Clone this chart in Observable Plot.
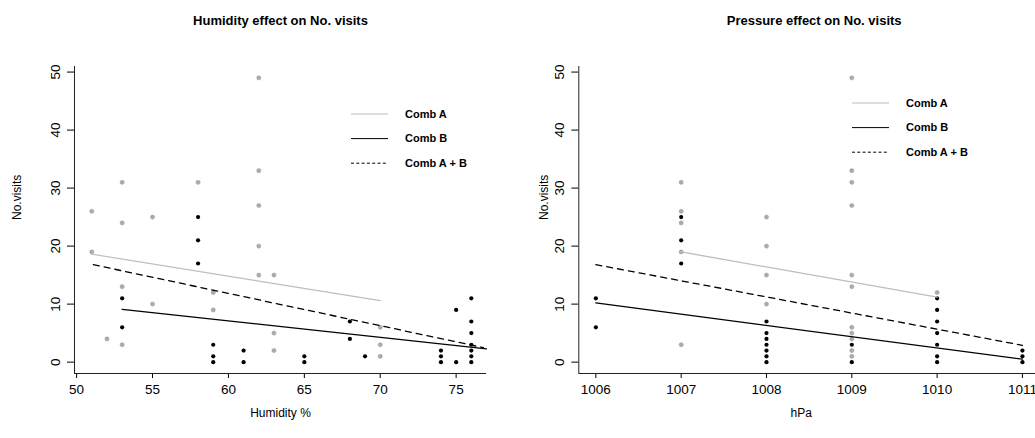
<!DOCTYPE html>
<html><head><meta charset="utf-8">
<script src="https://cdn.jsdelivr.net/npm/d3@7"></script>
<script src="https://cdn.jsdelivr.net/npm/@observablehq/plot@0.6"></script>
<style>
html,body{margin:0;padding:0;overflow:hidden;background:#fff;}
#wrap{position:relative;width:1035px;height:438px;overflow:hidden;font-family:"Liberation Sans",Arial,Helvetica,sans-serif;}
#wrap > svg{position:absolute;top:0;}
.legend{position:absolute;}
</style></head><body><div id="wrap"></div>
<script>
// ---------- data ----------
const yTicks = [0, 10, 20, 30, 40, 50];
const yDomain = [-1.96, 50.96];

// Humidity panel
const humTicks = [50, 55, 60, 65, 70, 75];
const humDomain = [49.86, 77.0];
const humAx = [51, 51, 52, 53, 53, 53, 53, 55, 55, 58, 59, 59, 62, 62, 62, 62, 62, 63, 63, 63, 70, 70, 70];
const humAy = [26, 19, 4, 31, 24, 13, 3, 25, 10, 31, 12, 9, 49, 33, 27, 20, 15, 15, 5, 2, 6, 3, 1];
const humBx = [53, 53, 58, 58, 58, 59, 59, 59, 61, 61, 65, 65, 68, 68, 69, 74, 74, 74, 75, 75, 76, 76, 76, 76, 76, 76, 76];
const humBy = [11, 6, 25, 21, 17, 3, 1, 0, 2, 0, 1, 0, 7, 4, 1, 2, 1, 0, 9, 0, 11, 7, 5, 3, 2, 1, 0];
const humFitAx = [51, 70], humFitAy = [18.6, 10.6];
const humFitBx = [53, 77], humFitBy = [9.1, 2.3];
const humFitABx = [51.1, 76.8], humFitABy = [16.8, 2.5];

// Pressure panel
const presTicks = [1006, 1007, 1008, 1009, 1010, 1011];
const presDomain = [1005.8, 1011.2];
const presAx = [1007, 1007, 1007, 1007, 1007, 1008, 1008, 1008, 1008, 1009, 1009, 1009, 1009, 1009, 1009, 1009, 1009, 1009, 1009, 1009, 1010];
const presAy = [31, 26, 24, 19, 3, 25, 20, 15, 10, 49, 33, 31, 27, 15, 13, 6, 5, 4, 2, 1, 12];
const presBx = [1006, 1006, 1007, 1007, 1007, 1008, 1008, 1008, 1008, 1008, 1008, 1008, 1009, 1009, 1010, 1010, 1010, 1010, 1010, 1010, 1010, 1011, 1011, 1011];
const presBy = [11, 6, 25, 21, 17, 7, 5, 4, 3, 2, 1, 0, 3, 0, 11, 9, 7, 5, 3, 1, 0, 2, 1, 0];
const presFitAx = [1007, 1010], presFitAy = [19.0, 11.2];
const presFitBx = [1006, 1011], presFitBy = [10.2, 0.5];
const presFitABx = [1006, 1011], presFitABy = [16.8, 2.9];

const legendLabels = ["Comb A", "Comb B", "Comb A + B"];
const titles = ["Humidity effect on No. visits", "Pressure effect on No. visits"];
const xLabels = ["Humidity %", "hPa"];
const yLabel = "No.visits";

// ---------- drawing ----------
const FONT = '"Liberation Sans", Arial, Helvetica, sans-serif';
const GRAY_PT = "#ababab", GRAY_LINE = "#bdbdbd";
const zip = (xs, ys) => xs.map((x, i) => ({x, y: ys[i]}));

function panel(o) {
  return Plot.plot({
    width: o.width, height: 438,
    marginLeft: o.marginLeft, marginRight: o.marginRight, marginTop: 66, marginBottom: 65,
    x: {domain: o.xDomain},
    y: {domain: yDomain},
    style: {fontFamily: FONT, background: "transparent", overflow: "visible", color: "#000"},
    marks: [
      Plot.axisX({ticks: o.xTicks, tickSize: 5, tickPadding: 6, fontSize: 13.5, label: null, tickFormat: d => String(d)}),
      Plot.axisY({ticks: yTicks, tickSize: 7, tickRotate: -90, tickPadding: 8, fontSize: 13.5, label: null, tickFormat: d => String(d)}),
      Plot.ruleX([o.xDomain[0]], {stroke: "#222", strokeWidth: 1}),
      Plot.ruleY([yDomain[0]], {stroke: "#222", strokeWidth: 1}),
      Plot.dot(zip(o.ax, o.ay), {x: "x", y: "y", r: 2.1, fill: GRAY_PT, stroke: "#9c9c9c", strokeWidth: 0.5}),
      Plot.dot(zip(o.bx, o.by), {x: "x", y: "y", r: 2.1, fill: "#000"}),
      Plot.line(zip(o.fax, o.fay), {x: "x", y: "y", stroke: GRAY_LINE, strokeWidth: 1.3}),
      Plot.line(zip(o.fbx, o.fby), {x: "x", y: "y", stroke: "#000", strokeWidth: 1.3}),
      Plot.line(zip(o.fabx, o.faby), {x: "x", y: "y", stroke: "#000", strokeWidth: 1.3, strokeDasharray: "6,5"}),
      Plot.text([o.title], {frameAnchor: "top", dy: -46, dx: o.titleDx, text: d => d, fontWeight: "bold", fontSize: 13, lineAnchor: "middle"}),
      Plot.text([o.xlab], {frameAnchor: "bottom", dy: 40, dx: o.xlabDx, text: d => d, fontSize: 12, lineAnchor: "middle"}),
      Plot.text([yLabel], {frameAnchor: "left", dx: o.ylabDx, rotate: -90, text: d => d, fontSize: 12, lineAnchor: "middle"})
    ]
  });
}

const wrap = document.getElementById("wrap");
const left = panel({
  width: 517, marginLeft: 74, marginRight: 31, ylabDx: -57, titleDx: 0, xlabDx: 0,
  xDomain: humDomain, xTicks: humTicks,
  ax: humAx, ay: humAy, bx: humBx, by: humBy,
  fax: humFitAx, fay: humFitAy, fbx: humFitBx, fby: humFitBy, fabx: humFitABx, faby: humFitABy,
  title: titles[0], xlab: xLabels[0]
});
left.style.left = "0px";
wrap.appendChild(left);

const right = panel({
  width: 553, marginLeft: 61.3, marginRight: 31, ylabDx: -35, titleDx: 5, xlabDx: -8,
  xDomain: presDomain, xTicks: presTicks,
  ax: presAx, ay: presAy, bx: presBx, by: presBy,
  fax: presFitAx, fay: presFitAy, fbx: presFitBx, fby: presFitBy, fabx: presFitABx, faby: presFitABy,
  title: titles[1], xlab: xLabels[1]
});
right.style.left = "517px";
wrap.appendChild(right);

// legends (overlay, like R's borderless legend)
function legend(x, y, rowGap) {
  const styles = [
    {stroke: GRAY_LINE, dash: null},
    {stroke: "#000", dash: null},
    {stroke: "#000", dash: "3,2.3"}
  ];
  const svg = d3.create("svg").attr("class", "legend")
    .attr("width", 140).attr("height", rowGap * 3 + 10)
    .style("left", x + "px").style("top", (y - 10) + "px")
    .style("position", "absolute").style("overflow", "visible");
  legendLabels.forEach((lab, i) => {
    const cy = 10 + i * rowGap;
    svg.append("line").attr("x1", 0).attr("x2", 37).attr("y1", cy).attr("y2", cy)
      .attr("stroke", styles[i].stroke).attr("stroke-width", 1)
      .attr("stroke-dasharray", styles[i].dash);
    svg.append("text").attr("x", 54).attr("y", cy).attr("dy", "0.35em")
      .attr("font-family", FONT).attr("font-weight", "bold").attr("font-size", 11)
      .text(lab);
  });
  wrap.appendChild(svg.node());
}
legend(351, 114, 24.6);
legend(852, 102.7, 24.6);
</script>
</body></html>
